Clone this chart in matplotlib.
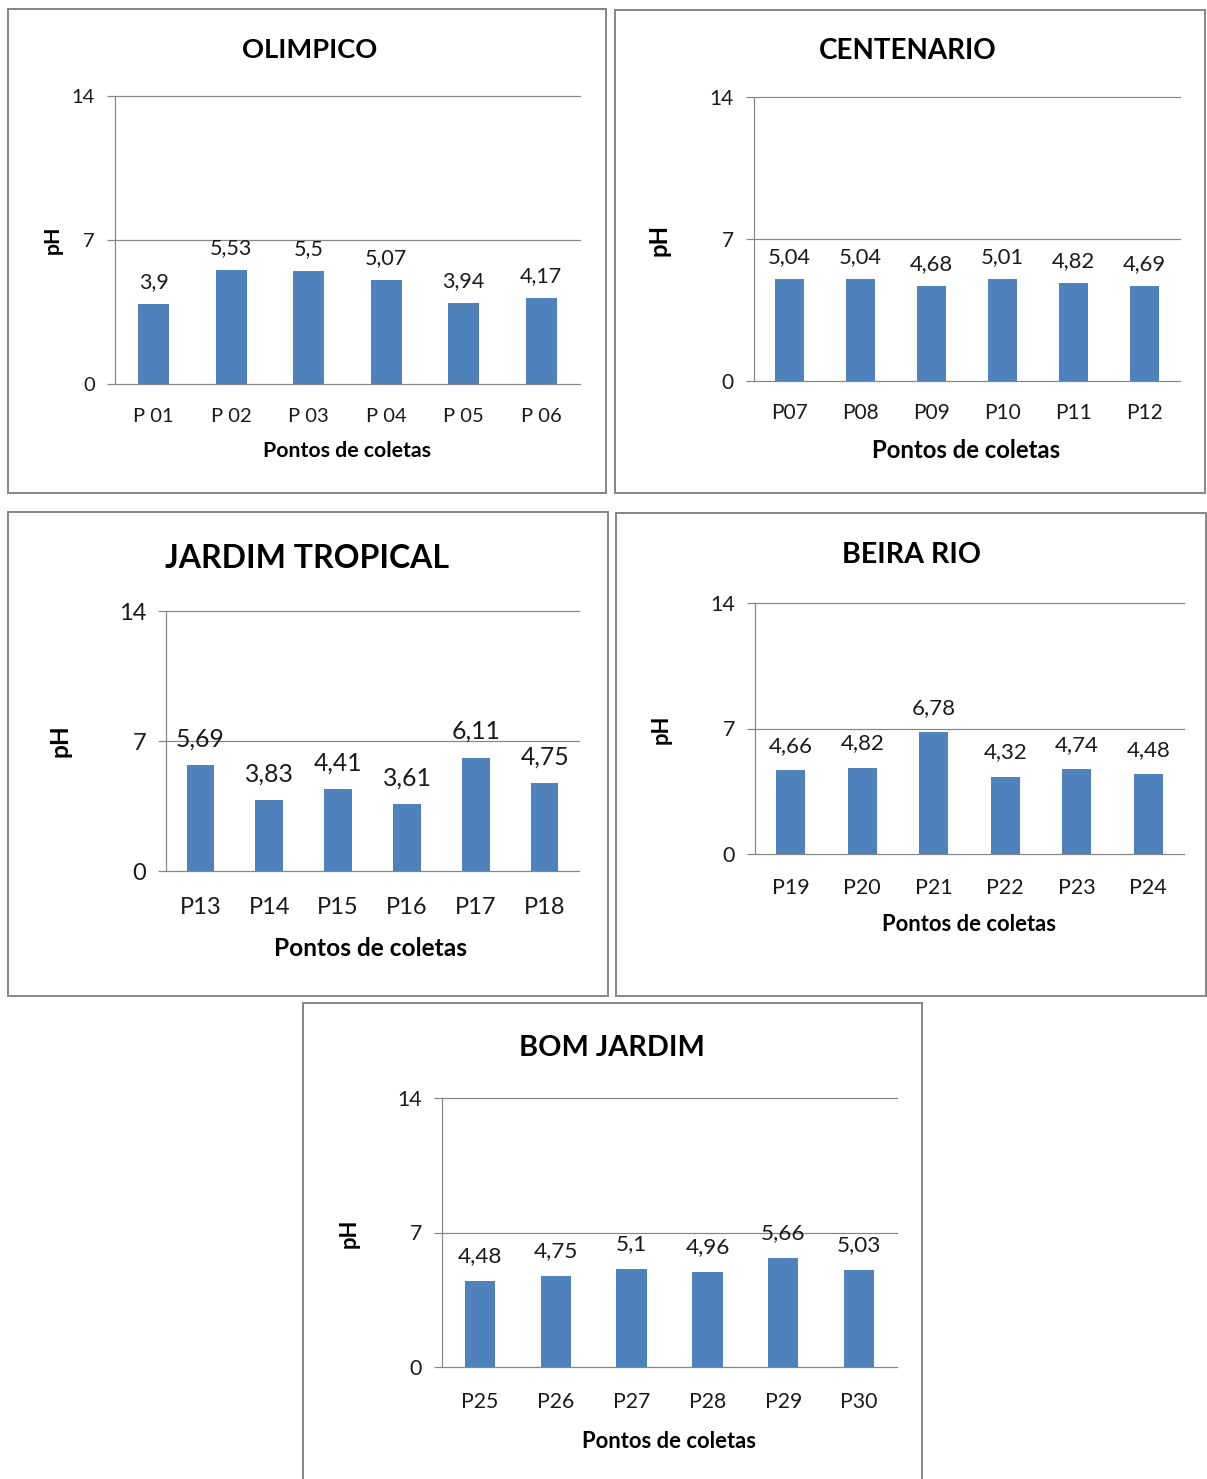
import matplotlib
matplotlib.use("Agg")
import matplotlib.pyplot as plt
from matplotlib.patches import Rectangle

plt.rcParams['font.family'] = ['Lato', 'DejaVu Sans']

W, H = 1207, 1479
DPI = 100
PX = 72.0 / DPI  # points per pixel
SHIFT = 2  # text centre correction, px

# data
titles = ["OLIMPICO", "CENTENARIO", "JARDIM TROPICAL", "BEIRA RIO", "BOM JARDIM"]
olimpico_pts = ["P 01", "P 02", "P 03", "P 04", "P 05", "P 06"]
olimpico_ph = [3.9, 5.53, 5.5, 5.07, 3.94, 4.17]
centenario_pts = ["P07", "P08", "P09", "P10", "P11", "P12"]
centenario_ph = [5.04, 5.04, 4.68, 5.01, 4.82, 4.69]
jardim_pts = ["P13", "P14", "P15", "P16", "P17", "P18"]
jardim_ph = [5.69, 3.83, 4.41, 3.61, 6.11, 4.75]
beira_pts = ["P19", "P20", "P21", "P22", "P23", "P24"]
beira_ph = [4.66, 4.82, 6.78, 4.32, 4.74, 4.48]
bom_pts = ["P25", "P26", "P27", "P28", "P29", "P30"]
bom_ph = [4.48, 4.75, 5.1, 4.96, 5.66, 5.03]
y_ticks = [0, 7, 14]
x_label = "Pontos de coletas"
y_label = "pH"

series = [
    (olimpico_pts, olimpico_ph),
    (centenario_pts, centenario_ph),
    (jardim_pts, jardim_ph),
    (beira_pts, beira_ph),
    (bom_pts, bom_ph),
]

# layout in pixels: box, axes (left, right, top, bottom), title, ylabel, xtick y, xlabel, font sizes
layout = [
    dict(box=(8, 9, 606, 493), ax=(115, 580, 96, 384), title=(310, 48), ylab=(53, 240),
         xtick=414, xlab=(347, 449), fs_title=19.6, fs_tick=14.5, fs_lab=15.3, fs_val=15.5, val_off=23),
    dict(box=(615, 10, 1205, 493), ax=(754, 1180, 97, 381), title=(908, 49), ylab=(659, 240),
         xtick=411, xlab=(966, 449), fs_title=20, fs_tick=15, fs_lab=17.2, fs_val=15.8, val_off=23),
    dict(box=(8, 512, 608, 996), ax=(166, 579, 611, 871), title=(307, 557), ylab=(60, 741),
         xtick=905, xlab=(371, 946), fs_title=23, fs_tick=17, fs_lab=17.6, fs_val=17.8, val_off=27),
    dict(box=(616, 513, 1206, 996), ax=(755, 1184, 603, 854), title=(911, 553), ylab=(661, 729),
         xtick=886, xlab=(969, 922), fs_title=20.6, fs_tick=15.5, fs_lab=15.8, fs_val=16, val_off=25),
    dict(box=(303, 1003, 922, 1490), ax=(442, 897, 1098, 1367), title=(612, 1046), ylab=(349, 1233),
         xtick=1400, xlab=(669, 1439), fs_title=20.8, fs_tick=15.3, fs_lab=15.8, fs_val=16.2, val_off=26),
]

BAR = "#4F81BD"
GRID = "#868686"
BORDER = "#898989"
TXT = "#1a1a1a"

fig = plt.figure(figsize=(W / DPI, H / DPI), dpi=DPI)
fig.patch.set_facecolor("white")


def fx(x):
    return x / W


def fy(y):
    return 1 - y / H


for title, (pts, vals), lo in zip(titles, series, layout):
    x0, y0, x1, y1 = lo["box"]
    fig.add_artist(Rectangle((fx(x0), fy(y1)), fx(x1 - x0), (y1 - y0) / H,
                             transform=fig.transFigure, fill=False,
                             edgecolor=BORDER, linewidth=2 * PX, clip_on=False))

    l, r, t, b = lo["ax"]
    ax = fig.add_axes([fx(l), fy(b), fx(r - l), (b - t) / H])
    xs = range(len(pts))
    ax.bar(xs, vals, width=0.4, color=BAR, zorder=2)
    ax.set_xlim(-0.5, len(pts) - 0.5)
    ax.set_ylim(0, 14)
    for yv in y_ticks:
        ax.axhline(yv, color=GRID, linewidth=1.2 * PX, zorder=1, clip_on=False)
    for s in ["top", "right", "bottom"]:
        ax.spines[s].set_visible(False)
    ax.spines["left"].set_color(GRID)
    ax.spines["left"].set_linewidth(1.2 * PX)

    ax.set_yticks(y_ticks)
    ax.tick_params(axis="y", length=8 * PX, width=1.2 * PX, color=GRID,
                   labelsize=lo["fs_tick"], pad=12 * PX, labelcolor=TXT)
    ax.set_xticks(list(xs))
    ax.set_xticklabels(pts)
    ax.tick_params(axis="x", length=0, labelsize=lo["fs_tick"],
                   pad=(lo["xtick"] + SHIFT - b) * PX, labelcolor=TXT)
    for lbl in ax.get_xticklabels():
        lbl.set_va("center")

    for xi, v in zip(xs, vals):
        ax.annotate(str(v).replace(".", ","), (xi, v), xytext=(0, (lo["val_off"] - 1) * PX),
                    textcoords="offset points", ha="center", va="center",
                    fontsize=lo["fs_val"], color=TXT)

    fig.text(fx(lo["title"][0]), fy(lo["title"][1] + SHIFT), title, ha="center", va="center",
             fontsize=lo["fs_title"], fontweight="bold", color="black")
    fig.text(fx(lo["xlab"][0]), fy(lo["xlab"][1] + SHIFT), x_label, ha="center", va="center",
             fontsize=lo["fs_lab"], fontweight="bold", color="black")
    fig.text(fx(lo["ylab"][0]), fy(lo["ylab"][1]), y_label, ha="center", va="center",
             rotation=90, fontsize=lo["fs_lab"], fontweight="bold", color="black")

fig.savefig("out.png", dpi=DPI, facecolor="white")
